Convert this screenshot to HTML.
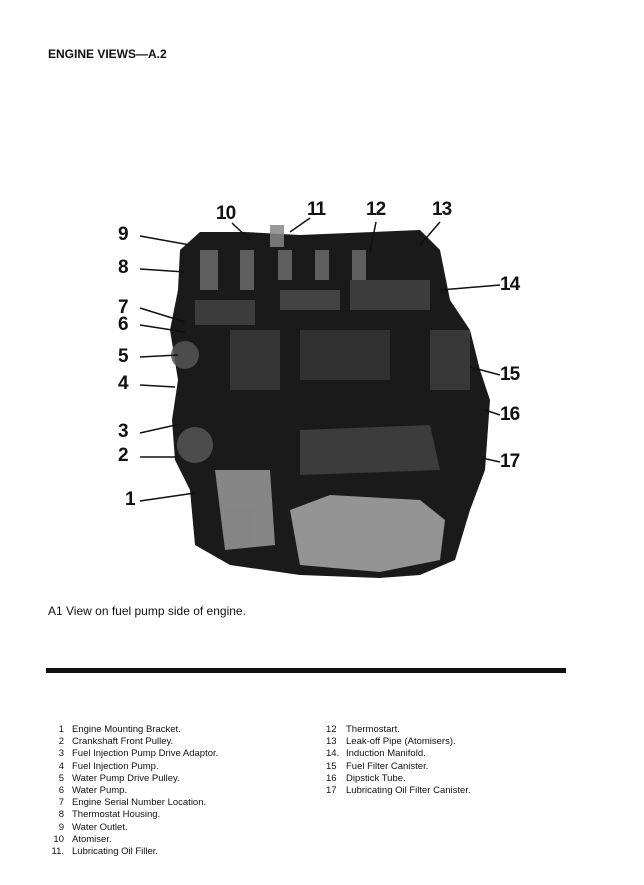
<!DOCTYPE html>
<html><head><meta charset="utf-8"><style>
body{margin:0;background:#fff;}
#p{position:relative;width:644px;height:885px;overflow:hidden;background:#fff;font-family:"Liberation Sans",sans-serif;color:#111;}
.t{position:absolute;white-space:nowrap;}
.n{position:absolute;font-weight:bold;font-size:19px;letter-spacing:-1px;}
.l{position:absolute;font-size:9.5px;line-height:12.2px;}
</style></head><body><div id="p">
<div class="t" style="left:48px;top:47px;font-size:12px;font-weight:bold;">ENGINE VIEWS—A.2</div>
<svg style="position:absolute;left:0;top:0" width="644" height="885">
<g fill="#1a1a1a">
<path d="M180 250 L200 232 L245 232 L300 235 L420 230 L440 250 L450 300 L470 330 L480 370 L490 400 L485 470 L470 510 L455 560 L420 575 L380 578 L300 575 L230 565 L195 545 L190 490 L175 460 L172 420 L178 380 L170 330 L178 290 Z"/>
</g>
<g fill="#6a6a6a" opacity=".85">
<rect x="200" y="250" width="18" height="40"/><rect x="240" y="250" width="14" height="40"/><rect x="278" y="250" width="14" height="30"/><rect x="315" y="250" width="14" height="30"/><rect x="352" y="250" width="14" height="30"/>
<rect x="195" y="300" width="60" height="25" opacity=".5"/>
<rect x="280" y="290" width="60" height="20" opacity=".6"/>
<rect x="350" y="280" width="80" height="30" opacity=".5"/>
<rect x="230" y="330" width="50" height="60" opacity=".4"/>
<rect x="300" y="330" width="90" height="50" opacity=".35"/>
<rect x="430" y="330" width="40" height="60" opacity=".45"/>
<path d="M215 470 L270 470 L275 545 L225 550 Z" fill="#999"/>
<path d="M290 510 L330 495 L420 500 L445 520 L440 560 L380 572 L300 565 Z" fill="#aaa"/>
<path d="M300 430 L430 425 L440 470 L300 475 Z" opacity=".5"/>
<circle cx="195" cy="445" r="18" fill="#555"/><circle cx="185" cy="355" r="14" fill="#555"/>
<rect x="270" y="225" width="14" height="22" fill="#888"/>
</g>
<g stroke="#111" stroke-width="1.5">
<line x1="140" y1="236" x2="190" y2="245"/><line x1="140" y1="269" x2="185" y2="272"/>
<line x1="140" y1="308" x2="185" y2="322"/><line x1="140" y1="325" x2="185" y2="332"/>
<line x1="140" y1="357" x2="178" y2="355"/><line x1="140" y1="385" x2="175" y2="387"/>
<line x1="140" y1="433" x2="180" y2="424"/><line x1="140" y1="457" x2="178" y2="457"/>
<line x1="140" y1="501" x2="195" y2="493"/>
<line x1="232" y1="223" x2="250" y2="240"/><line x1="310" y1="218" x2="290" y2="232"/>
<line x1="376" y1="222" x2="370" y2="252"/><line x1="440" y1="222" x2="420" y2="245"/>
<line x1="500" y1="285" x2="440" y2="290"/><line x1="500" y1="375" x2="470" y2="367"/>
<line x1="500" y1="415" x2="485" y2="410"/><line x1="500" y1="462" x2="482" y2="458"/>
</g>
<rect x="46" y="668" width="520" height="5" fill="#111"/>
</svg>
<div class="n" style="left:216px;top:203px">10</div>
<div class="n" style="left:307px;top:199px">11</div>
<div class="n" style="left:366px;top:199px">12</div>
<div class="n" style="left:432px;top:199px">13</div>
<div class="n" style="left:118px;top:224px">9</div>
<div class="n" style="left:118px;top:257px">8</div>
<div class="n" style="left:118px;top:297px">7</div>
<div class="n" style="left:118px;top:314px">6</div>
<div class="n" style="left:118px;top:346px">5</div>
<div class="n" style="left:118px;top:373px">4</div>
<div class="n" style="left:118px;top:421px">3</div>
<div class="n" style="left:118px;top:445px">2</div>
<div class="n" style="left:125px;top:489px">1</div>
<div class="n" style="left:500px;top:274px">14</div>
<div class="n" style="left:500px;top:364px">15</div>
<div class="n" style="left:500px;top:404px">16</div>
<div class="n" style="left:500px;top:451px">17</div>
<div class="t" style="left:48px;top:604px;font-size:12px;">A1 View on fuel pump side of engine.</div>
<div class="l" style="left:48px;top:724px;text-align:right;width:16px">1<br>2<br>3<br>4<br>5<br>6<br>7<br>8<br>9<br>10<br>11.</div>
<div class="l" style="left:72px;top:724px">Engine Mounting Bracket.<br>Crankshaft Front Pulley.<br>Fuel Injection Pump Drive Adaptor.<br>Fuel Injection Pump.<br>Water Pump Drive Pulley.<br>Water Pump.<br>Engine Serial Number Location.<br>Thermostat Housing.<br>Water Outlet.<br>Atomiser.<br>Lubricating Oil Filler.</div>
<div class="l" style="left:326px;top:724px">12<br>13<br>14.<br>15<br>16<br>17</div>
<div class="l" style="left:346px;top:724px">Thermostart.<br>Leak-off Pipe (Atomisers).<br>Induction Manifold.<br>Fuel Filter Canister.<br>Dipstick Tube.<br>Lubricating Oil Filter Canister.</div>
</div></body></html>
